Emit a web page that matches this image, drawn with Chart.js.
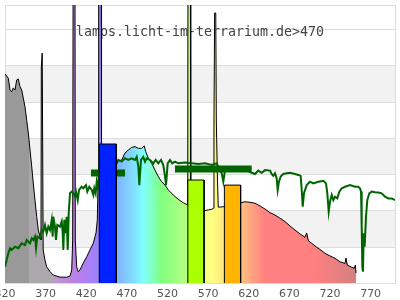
<!DOCTYPE html>
<html>
<head>
<meta charset="utf-8">
<script src="https://cdn.jsdelivr.net/npm/chart.js@4/dist/chart.umd.min.js"></script>
<style>
  html, body { margin: 0; padding: 0; background: #fff; }
  #wrap { width: 400px; height: 300px; }
</style>
</head>
<body>
<div id="wrap"><canvas id="chart" width="400" height="300"></canvas></div>
<script>
// --- DATA ---
const titleText = 'lamps.licht-im-terrarium.de>470';
const xTicks = [320, 370, 420, 470, 520, 570, 620, 670, 720, 770];
const gridValues = [15, 30, 45, 60, 75, 90, 105];
const greyBands = [[15, 30], [45, 60], [75, 90]];

// lamp spectrum (nm / relative intensity, 200 = off scale)
const specNm = [320.0, 324.1, 326.2, 328.2, 330.2, 332.3, 334.4, 336.4, 338.5, 340.6, 342.5, 344.6, 346.7, 348.7,
  350.8, 352.9, 354.8, 356.9, 359.0, 361.0, 363.1, 364.3, 364.7, 365.8, 366.5, 367.0, 369.2, 371.3, 375.4, 379.4,
  387.7, 395.9, 400.0, 402.1, 403.3, 404.2, 405.9, 406.5, 408.2, 410.2, 412.3, 416.4, 420.6, 424.6, 428.7, 432.0,
  433.6, 434.8, 435.3, 438.2, 438.8, 443.1, 449.2, 457.5, 463.6, 467.7, 471.8, 475.9, 480.0, 484.1, 488.2, 491.4,
  493.2, 496.4, 500.6, 504.6, 508.7, 512.9, 516.9, 521.0, 527.1, 533.3, 539.4, 544.9, 545.4, 547.9, 548.6, 556.3,
  565.3, 570.2, 574.4, 576.4, 577.2, 578.0, 579.4, 580.1, 581.5, 582.5, 584.6, 589.5, 599.4, 610.1, 615.4, 621.5,
  627.7, 633.8, 640.0, 646.2, 652.3, 658.5, 664.6, 670.8, 676.9, 683.1, 689.2, 691.3, 693.3, 697.5, 703.6, 707.7,
  713.8, 720.0, 726.2, 732.3, 738.5, 739.7, 741.3, 746.7, 749.9, 751.2, 752.0];
const specVal = [86.5, 84.7, 79.8, 79.1, 80.7, 79.8, 84.0, 84.4, 81.2, 79.8, 76.5, 72.9, 67.4, 62.1,
  55.0, 48.1, 41.4, 34.3, 27.4, 21.9, 19.2, 17.8, 89.4, 95.1, 95.1, 13.7, 9.5, 6.7, 4.7, 3.3,
  2.4, 2.4, 2.9, 5.4, 17.8, 200, 200, 17.8, 6.7, 4.7, 5.4, 8.3, 10.9, 13.7, 16.5, 20.7,
  26.1, 45.5, 200, 200, 55.0, 48.8, 49.6, 50.2, 50.9, 53.8, 55.0, 56.1, 56.4, 55.7, 55.7, 56.7,
  54.3, 51.6, 49.5, 46.7, 44.0, 41.9, 40.5, 38.5, 36.4, 34.6, 33.2, 32.3, 200, 200, 31.4, 30.2,
  29.9, 30.2, 30.5, 30.9, 66.6, 111.7, 111.7, 66.6, 42.6, 31.4, 31.4, 31.6, 32.3, 33.2, 33.6, 33.4,
  33.0, 31.9, 30.6, 29.1, 28.1, 26.8, 25.4, 23.6, 21.9, 20.3, 18.9, 20.7, 17.5, 16.4, 14.8, 13.9,
  12.3, 11.2, 10.2, 8.8, 8.1, 10.3, 7.4, 6.5, 6.1, 7.4, 4.1];

// daylight reference spectrum
const dayNm = [320.0, 324.1, 326.2, 328.2, 332.3, 336.4, 340.6, 344.6, 346.7, 350.8, 352.9, 354.8, 356.9, 358.2,
  359.8, 363.1, 365.2, 367.1, 369.2, 371.3, 373.3, 375.4, 377.5, 378.7, 379.4, 381.5, 382.8, 384.4, 387.7, 389.8,
  391.0, 391.8, 393.0, 394.7, 395.9, 397.2, 398.4, 400.0, 402.1, 404.1, 406.2, 407.4, 409.5, 411.1, 414.4, 416.4,
  419.7, 421.3, 423.8, 426.8, 428.7, 429.9, 431.6, 432.9, 434.1, 435.7, 457.5, 459.4, 463.6, 467.7, 471.8, 475.9,
  480.0, 482.1, 484.1, 485.3, 487.4, 490.2, 492.3, 494.4, 498.5, 502.5, 505.5, 508.7, 512.0, 514.8, 516.9, 518.2,
  520.2, 523.1, 525.9, 529.2, 533.3, 541.5, 549.8, 557.9, 566.2, 574.4, 580.5, 582.5, 586.7, 588.7, 590.8, 599.0,
  607.1, 615.4, 623.6, 627.7, 631.8, 635.9, 640.0, 646.2, 648.2, 650.2, 652.3, 654.4, 655.6, 657.2, 659.3, 662.5,
  666.7, 670.8, 676.9, 681.0, 683.9, 685.2, 686.4, 688.0, 691.3, 695.4, 699.4, 705.6, 711.8, 715.1, 716.7, 718.4,
  720.0, 722.1, 724.1, 726.2, 729.0, 731.5, 734.4, 738.5, 744.6, 750.8, 754.8, 756.9, 758.2, 759.0, 759.8, 760.6,
  761.5, 762.7, 764.3, 765.9, 768.4, 771.3, 775.4, 779.4, 783.6, 787.7, 791.7, 795.9, 800.0];
const dayVal = [6.7, 12.3, 14.4, 13.7, 15.0, 14.4, 16.4, 15.7, 17.8, 16.4, 18.5, 17.8, 19.2, 14.4,
  19.2, 18.5, 21.9, 21.2, 24.0, 20.6, 23.3, 21.9, 26.1, 19.2, 27.4, 23.3, 17.8, 24.0, 23.3, 25.4,
  21.2, 13.7, 26.1, 20.6, 27.4, 13.7, 28.8, 37.1, 37.8, 37.1, 35.7, 37.8, 34.3, 38.5, 39.8, 39.2,
  40.5, 37.8, 39.8, 38.5, 36.4, 39.2, 37.1, 41.9, 39.8, 42.6, 49.5, 50.9, 50.2, 51.6, 50.9, 51.6,
  50.9, 52.2, 48.1, 40.5, 50.9, 52.2, 50.2, 51.6, 50.9, 49.5, 50.9, 49.5, 50.9, 48.8, 44.3, 40.5,
  49.5, 50.9, 49.5, 50.2, 49.5, 49.8, 49.5, 49.2, 49.5, 48.8, 49.5, 48.1, 45.4, 41.9, 46.7, 47.4,
  47.4, 47.0, 45.6, 45.1, 46.5, 45.6, 46.7, 46.5, 45.1, 44.3, 45.4, 43.3, 38.5, 41.9, 44.0, 45.1,
  45.4, 45.6, 45.1, 44.7, 44.3, 38.5, 31.6, 37.1, 40.5, 41.9, 41.2, 41.9, 42.3, 41.2, 37.1, 29.5,
  33.6, 36.4, 34.3, 35.7, 35.0, 37.8, 39.2, 39.8, 40.5, 39.8, 39.8, 39.2, 37.8, 23.3, 6.7, 4.7,
  20.6, 15.0, 27.4, 34.3, 37.1, 37.8, 37.5, 37.4, 37.1, 35.7, 35.0, 35.0, 34.3];

// mean daylight levels (thick segments)
const avgStart = [425.8, 529.2];
const avgEnd = [467.7, 623.6];
const avgVal = [45.5, 47.2];

// band bars
const barStart = [436, 545, 590];
const barEnd = [457, 565, 610];
const barVal = [57.5, 42.6, 40.5];

// --- STYLES ---
const barColors = ['#0022ff', '#aaff00', '#ffb400'];
const spectrumStops = [
  [320, '#999999'], [349.9, '#999999'], [350, '#ada8ad'], [379.9, '#ada8ad'],
  [380, 'rgb(190,152,205)'], [400, 'rgb(190,132,225)'], [420, 'rgb(176,126,245)'], [436, 'rgb(150,132,255)'],
  [457, 'rgb(128,176,255)'], [475, 'rgb(128,215,255)'], [490, 'rgb(128,255,255)'], [500, 'rgb(128,255,200)'],
  [512, 'rgb(128,255,128)'], [530, 'rgb(160,255,128)'], [545, 'rgb(185,255,128)'], [560, 'rgb(230,255,128)'],
  [575, 'rgb(255,255,128)'], [590, 'rgb(255,230,128)'], [610, 'rgb(255,195,128)'], [625, 'rgb(255,160,128)'],
  [640, 'rgb(255,128,128)'], [700, 'rgb(255,128,128)'], [725, 'rgb(235,128,128)'], [752, 'rgb(210,128,128)'],
  [800, 'rgb(210,128,128)']
];

function toPoints(xs, ys) {
  return xs.map((x, i) => ({ x: x, y: ys[i] }));
}

function spectrumFill(context) {
  const chart = context.chart;
  if (!chart.chartArea) return 'rgba(0,0,0,0)';
  const sx = chart.scales.x;
  const g = chart.ctx.createLinearGradient(sx.getPixelForValue(320), 0, sx.getPixelForValue(800), 0);
  spectrumStops.forEach(([nm, c]) => g.addColorStop((nm - 320) / 480, c));
  return g;
}

// fondo: bandas, rejilla, marco y texto
const backgroundPlugin = {
  id: 'fondo',
  beforeDraw(chart) {
    const { ctx, chartArea: a, scales: { y } } = chart;
    ctx.save();
    ctx.fillStyle = '#ffffff';
    ctx.fillRect(0, 0, chart.width, chart.height);
    ctx.fillStyle = '#f2f2f2';
    greyBands.forEach(([lo, hi]) => {
      const top = Math.round(y.getPixelForValue(hi));
      const bottom = Math.round(y.getPixelForValue(lo));
      ctx.fillRect(a.left, top, a.right - a.left, bottom - top);
    });
    ctx.restore();
  },
  beforeDatasetsDraw(chart) {
    const { ctx, chartArea: a, scales: { y } } = chart;
    ctx.save();
    ctx.strokeStyle = '#dddddd';
    ctx.lineWidth = 1;
    gridValues.forEach(v => {
      const py = Math.round(y.getPixelForValue(v)) + 0.5;
      ctx.beginPath();
      ctx.moveTo(a.left, py);
      ctx.lineTo(a.right, py);
      ctx.stroke();
    });
    ctx.strokeRect(a.left + 0.5, a.top + 0.5, a.right - a.left, a.bottom - a.top);
    ctx.font = '13.3px "DejaVu Sans Mono"';
    ctx.fillStyle = '#444444';
    ctx.textAlign = 'center';
    ctx.textBaseline = 'alphabetic';
    ctx.fillText(titleText, (a.left + a.right) / 2, 36);
    ctx.restore();
  }
};

const datasets = [];

datasets.push({
  data: toPoints(specNm, specVal),
  borderColor: '#000000',
  borderWidth: 1,
  backgroundColor: spectrumFill,
  fill: 'origin',
  order: 4
});

avgStart.forEach((s, i) => {
  datasets.push({
    data: [{ x: s, y: avgVal[i] }, { x: avgEnd[i], y: avgVal[i] }],
    borderColor: '#006400',
    borderWidth: 7,
    borderCapStyle: 'butt',
    fill: false,
    order: 3
  });
});

datasets.push({
  data: toPoints(dayNm, dayVal),
  borderColor: '#006400',
  borderWidth: 2,
  fill: false,
  order: 2
});

barStart.forEach((s, i) => {
  datasets.push({
    data: [{ x: s, y: 0 }, { x: s, y: barVal[i] }, { x: barEnd[i], y: barVal[i] }, { x: barEnd[i], y: 0 }],
    borderColor: '#000000',
    borderWidth: 1,
    backgroundColor: barColors[i],
    fill: 'origin',
    order: 1
  });
});

new Chart(document.getElementById('chart'), {
  type: 'line',
  data: { datasets: datasets },
  options: {
    responsive: false,
    animation: false,
    devicePixelRatio: 1,
    layout: { autoPadding: false, padding: { top: 5, left: 5, right: 5, bottom: 0 } },
    elements: { point: { radius: 0, hoverRadius: 0 }, line: { tension: 0 } },
    plugins: { legend: { display: false }, tooltip: { enabled: false } },
    scales: {
      x: {
        type: 'linear',
        min: 320,
        max: 800,
        afterBuildTicks: scale => { scale.ticks = xTicks.map(v => ({ value: v })); },
        afterFit: scale => {
          scale.height = 17;
          scale.paddingLeft = 0;
          scale.paddingRight = 0;
        },
        grid: { display: false, drawTicks: false },
        border: { display: false },
        ticks: {
          autoSkip: false,
          maxRotation: 0,
          padding: 5,
          color: '#555555',
          font: { family: 'DejaVu Sans', size: 11 }
        }
      },
      y: { display: false, min: 0, max: 115 }
    }
  },
  plugins: [backgroundPlugin]
});
</script>
</body>
</html>
